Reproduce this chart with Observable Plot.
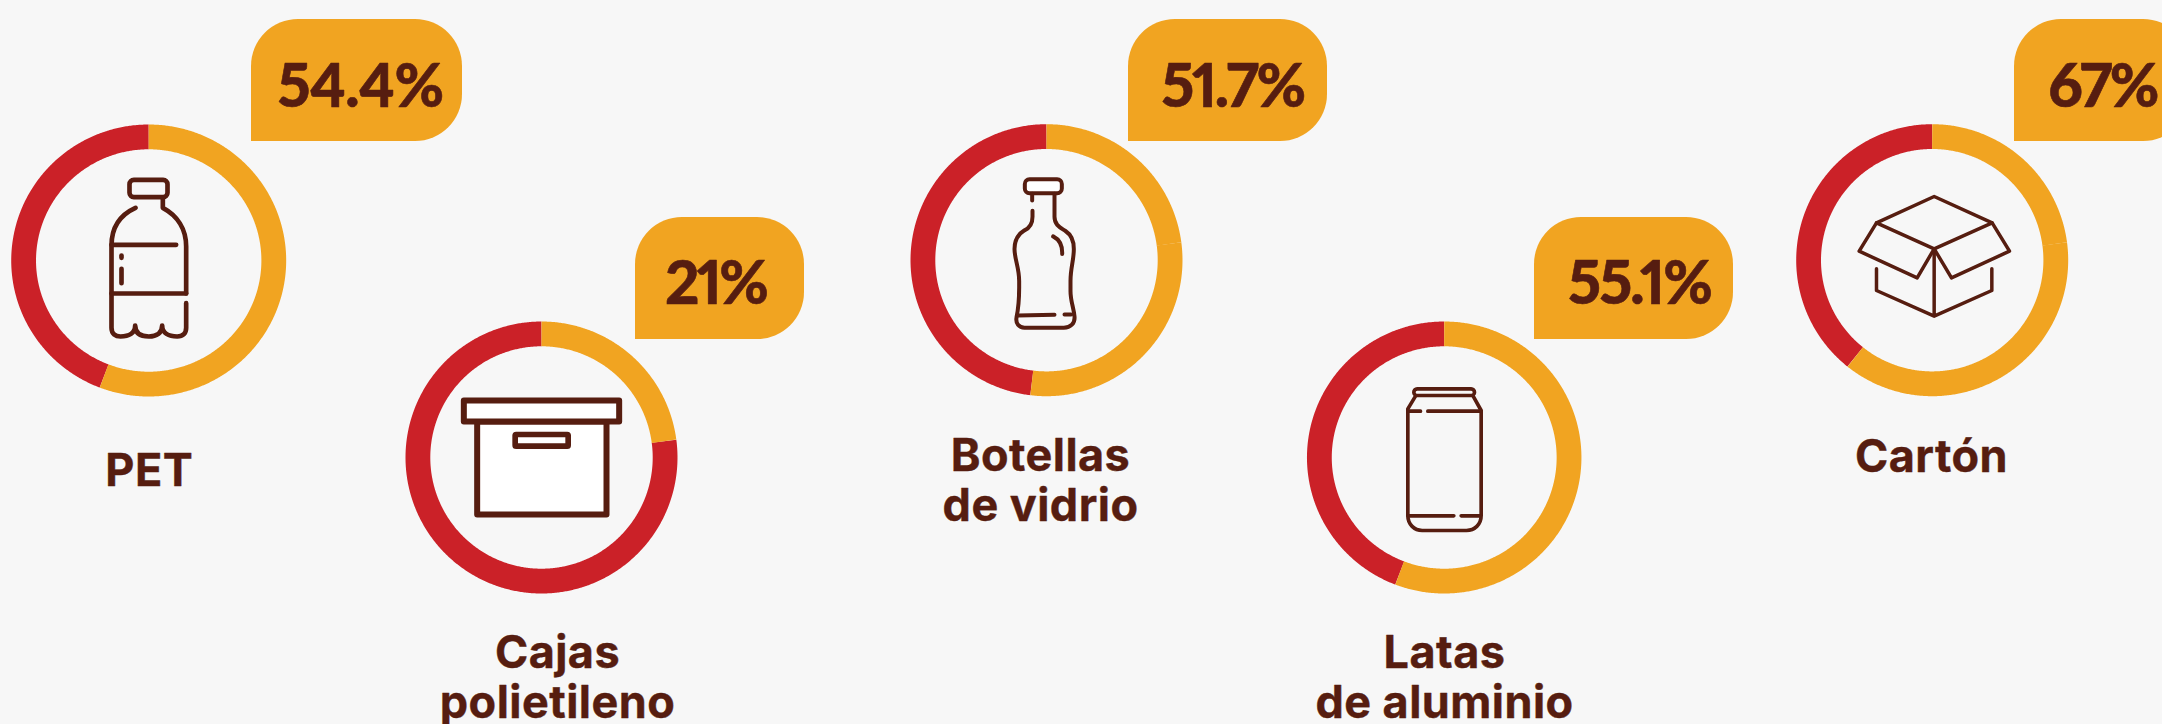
<!DOCTYPE html>
<html>
<head>
<meta charset="utf-8">
<style>html,body{margin:0;padding:0;background:#f7f7f7;overflow:hidden}</style>
<script src="https://cdn.jsdelivr.net/npm/d3@7"></script>
<script src="https://cdn.jsdelivr.net/npm/@observablehq/plot@0.6"></script>
</head>
<body>
<div id="chart"></div>
<script>
// DATA
const categories = ["PET", "Cajas\npolietileno", "Botellas\nde vidrio", "Latas\nde aluminio", "Cartón"];
const percentLabels = ["54.4%", "21%", "51.7%", "55.1%", "67%"];
// Shares of each ring as drawn in the picture (amber may be two abutting pieces)
const amberPieces = [[55.8], [22.9], [22.9, 29.0], [55.8], [22.9, 37.8]];

// LAYOUT (full-size pixels)
const ringX = [148.2, 541, 1046, 1443.7, 1931.7];
const ringY = [260, 457, 259.7, 457, 259.7];
const ringStretch = [1.012, 1, 1, 1.01, 1];
const bubbleX1 = [251, 635, 1128, 1534, 2014];
const bubbleX2 = [462, 804, 1327, 1733, 2190];
const bubbleY1 = [19, 217, 19, 217, 19];
const bubbleH = 122;
const bubbleR = 47;
const pctX = [360, 715, 1232, 1639, 2102];
const pctBase = [106, 303, 106, 303, 106];
const pctTrack = [-0.55, -2.8, -2.4, -1.9, -2.6];
const labelX = [148.8, 557, 1040, 1444, 1931];
const labelBase = [485, 717, 520, 717, 471.7];
const midR = 123.6, ringW = 24.8;
const RED = "#cb2128", AMBER = "#f1a421", BROWN = "#561d10", BG = "#f7f7f7";

// Rings
function arcPoints(i, id, from, to) {
  const pts = [];
  const n = Math.max(2, Math.ceil((to - from) * 3.6 * 2));
  for (let k = 0; k <= n; k++) {
    const a = (from + (to - from) * k / n) / 100 * 2 * Math.PI;
    pts.push({id, x: ringX[i] + midR * ringStretch[i] * Math.sin(a), y: ringY[i] - midR * Math.cos(a)});
  }
  return pts;
}
const redArcs = [], amberArcs = [];
amberPieces.forEach((pieces, i) => {
  let s = 0;
  pieces.forEach((p, j) => { amberArcs.push(...arcPoints(i, `a${i}-${j}`, s, s + p)); s += p; });
  redArcs.push(...arcPoints(i, `r${i}`, s, 100));
});

// Pictograms: SVG drawn in 3x units, [viewBox x, y, w, h, crop origin x, y, stroke width, body, y stretch]
const icon = (vx, vy, vw, vh, ox, oy, sw, body, ys = 1) => {
  const svg = `<svg xmlns="http://www.w3.org/2000/svg" viewBox="${vx} ${vy} ${vw} ${vh}" preserveAspectRatio="none" width="${vw * 2}" height="${vh * 2 * ys}"><g fill="none" stroke="${BROWN}" stroke-width="${sw}" stroke-linecap="round" stroke-linejoin="round">${body}</g></svg>`;
  return {x: ox + (vx + vw / 2) / 3, y: oy + ys * (vy + vh / 2) / 3, w: vw / 3, h: ys * vh / 3,
          src: "data:image/svg+xml," + encodeURIComponent(svg)};
};
const icons = [
  icon(300, 510, 290, 530, 0, 0, 14,
    `<rect x="387" y="538" width="114" height="52" rx="13"/>
     <path d="M487 592V622C530 645 557 685 557 738V879"/>
     <path d="M405 622C372 637 333 668 333 735V982C333 1000 345 1008 360 1008C385 1008 404 998 404 975C404 998 420 1008 445 1008C468 1008 485 998 485 975C485 998 505 1008 530 1008C548 1008 557 998 557 982V908"/>
     <path d="M333 733H527M333 879H557M363 765V772M363 805V848"/>`),
  icon(190, 570, 530, 400, 390, 200, 18,
    `<rect x="260" y="663" width="388" height="279" fill="#fff"/>
     <rect x="220" y="600" width="466" height="63" fill="#fff"/>
     <rect x="374" y="702" width="159" height="35" rx="3" fill="#fff" stroke-width="17"/>`),
  icon(320, 505, 225, 485, 900, 0, 12,
    `<rect x="373" y="529" width="111" height="41" rx="14" fill="#fff"/>
     <path d="M462 572V640C462 665 480 672 495 682C512 693 520 712 520 735C520 770 510 790 510 830V860C510 890 520 910 522 935C524 955 510 968 490 968H372C355 968 345 955 348 938C355 905 356 880 356 850V830C356 790 342 765 342 735C342 710 355 690 372 680C390 672 396 660 396 640V622"/>
     <path d="M395 572V592M352 932L462 930M492 929H512M458 698C478 708 486 725 485 750"/>`, 1.014),
  icon(330, 545, 260, 460, 1290, 200, 11,
    `<rect x="370" y="565" width="182" height="20" rx="10"/>
     <path d="M375 587L352 625V945C352 972 372 990 395 990H528C552 990 572 972 572 945V630L548 587"/>
     <path d="M352 632H390M412 632H568M352 946H490M512 946H568"/>`),
  icon(245, 570, 490, 395, 1770, 0, 10.5,
    `<path d="M491 588L665 667L491 745L318 667Z"/>
     <path d="M318 667L266 752L440 832L491 745L543 832L717 752L665 667"/>
     <path d="M491 745V947M318 805V870L491 947L664 870V805"/>`)
];

const idx = d3.range(categories.length);
const bubbles = idx.map(i => ({x1: bubbleX1[i], x2: bubbleX2[i], y1: bubbleY1[i], y2: bubbleY1[i] + bubbleH}));
const corners = bubbles.map(b => ({x1: b.x1, x2: b.x1 + bubbleR, y1: b.y2 - bubbleR, y2: b.y2}));
const pct = idx.map(i => ({x: pctX[i], y: pctBase[i], t: percentLabels[i]}));
const lab = idx.map(i => ({x: labelX[i], y: labelBase[i], t: categories[i]}));

const chart = Plot.plot({
  width: 2162, height: 724,
  margin: 0,
  style: {background: BG, display: "block"},
  x: {domain: [0, 2162], range: [0, 2162], axis: null},
  y: {domain: [0, 724], range: [0, 724], axis: null},
  marks: [
    Plot.line(redArcs, {x: "x", y: "y", z: "id", stroke: RED, strokeWidth: ringW, strokeLinecap: "butt", curve: "linear"}),
    Plot.line(amberArcs, {x: "x", y: "y", z: "id", stroke: AMBER, strokeWidth: ringW, strokeLinecap: "butt", curve: "linear"}),
    Plot.rect(bubbles, {x1: "x1", x2: "x2", y1: "y1", y2: "y2", fill: AMBER, rx: bubbleR, clip: "frame"}),
    Plot.rect(corners, {x1: "x1", x2: "x2", y1: "y1", y2: "y2", fill: AMBER}),
    Plot.image(icons, {x: "x", y: "y", width: "w", height: "h", src: "src"}),
    Plot.text(pct, {x: "x", y: "y", text: "t", fill: BROWN, stroke: BROWN, strokeWidth: 0.6, fontFamily: "Lato", fontWeight: 900, fontSize: 60, fontVariant: "proportional-nums", lineAnchor: "bottom", textAnchor: "middle"}),
    Plot.text(lab, {x: "x", y: "y", text: "t", fill: BROWN, stroke: BROWN, strokeWidth: 0.4, fontFamily: "Inter", fontWeight: 700, fontSize: 45, lineHeight: 1.11, lineAnchor: "bottom", textAnchor: "middle"})
  ]
});
// Plot's text mark has no tracking option, so tracking is set on the finished text nodes
d3.select(chart).selectAll("text").each(function () {
  const p = percentLabels.indexOf(this.textContent);
  this.style.letterSpacing = (p >= 0 ? pctTrack[p] : 0.45) + "px";
});
document.getElementById("chart").appendChild(chart);
</script>
</body>
</html>
